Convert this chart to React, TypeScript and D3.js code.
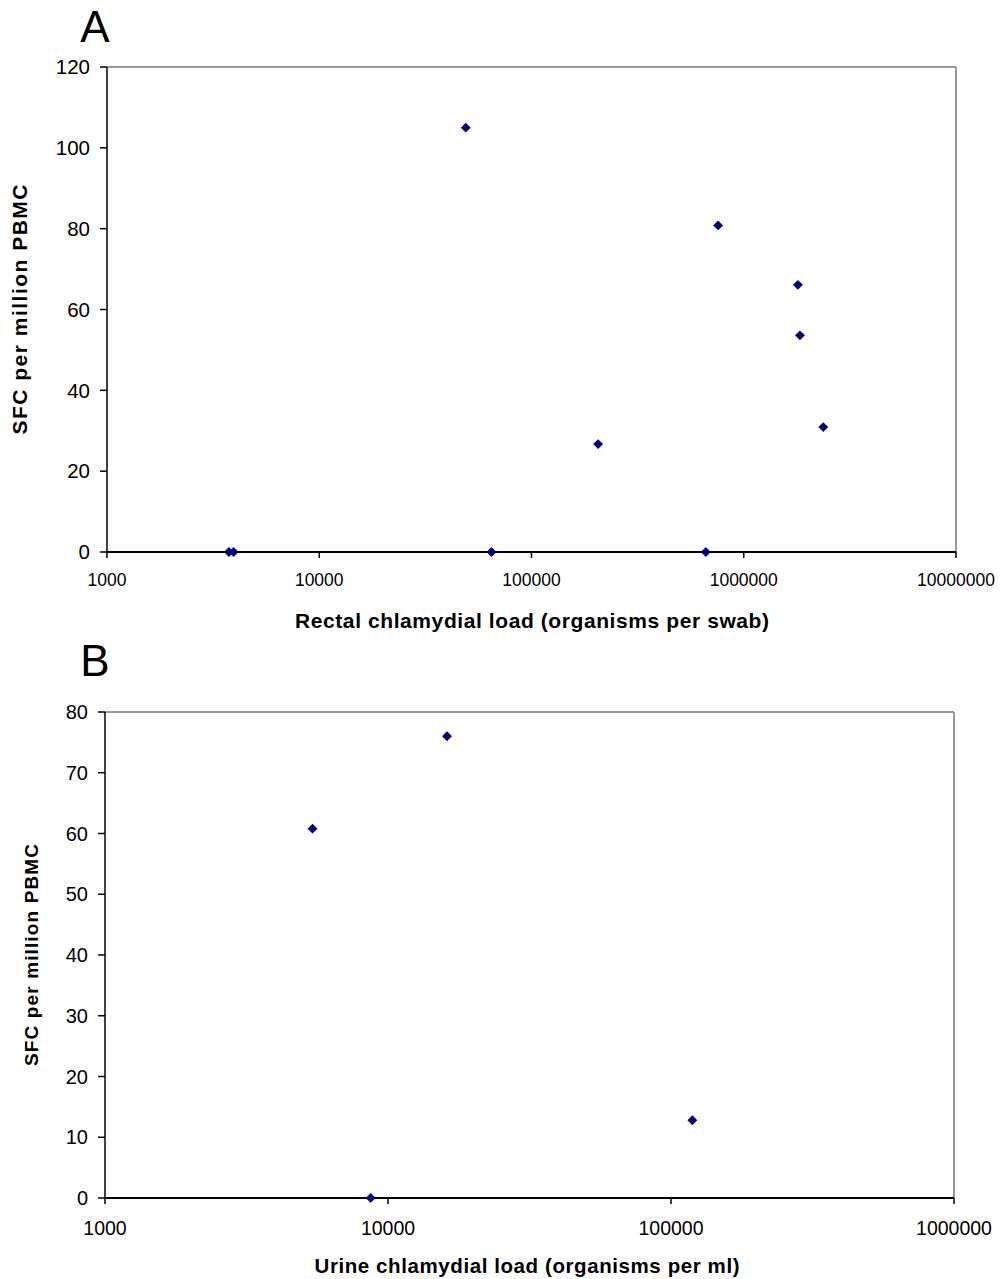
import React from "react";
import * as d3 from "d3";

// Panel A: rectal load vs SFC
const rectalLoad = [3750, 3950, 64800, 49000, 206000, 757000, 1800000, 1840000, 2370000, 663000];
const rectalSFC = [0, 0, 0, 105, 26.7, 80.8, 66.1, 53.6, 30.9, 0];
const rectalXTicks = [1000, 10000, 100000, 1000000, 10000000];
const rectalYTicks = [0, 20, 40, 60, 80, 100, 120];

// Panel B: urine load vs SFC
const urineLoad = [5410, 16160, 8690, 119000];
const urineSFC = [60.8, 76, 0, 12.8];
const urineXTicks = [1000, 10000, 100000, 1000000];
const urineYTicks = [0, 10, 20, 30, 40, 50, 60, 70, 80];

const FONT = "'Liberation Sans', Arial, sans-serif";
const MARK = "#000080";

type PanelProps = {
  label: string;
  xs: number[];
  ys: number[];
  xTicks: number[];
  yTicks: number[];
  xDomain: [number, number];
  yDomain: [number, number];
  left: number; right: number; top: number; bottom: number;
  xTitle: string; yTitle: string;
  xTitleX: number; xTitleY: number; xTitleLen: number;
  yTitleX: number; yTitleLen: number;
  labelY: number;
  yTickFont: number; xTickFont: number; xTickY: number;
  xTitleFont: number; yTitleFont: number;
};

function Panel(p: PanelProps) {
  const x = d3.scaleLog().domain(p.xDomain).range([p.left, p.right]);
  const y = d3.scaleLinear().domain(p.yDomain).range([p.bottom, p.top]);
  const diamond = d3.symbol().type(d3.symbolDiamond2).size(62)();
  const yMid = (p.top + p.bottom) / 2;
  return (
    <g>
      <text x={95} y={p.labelY} fontFamily={FONT} fontSize={44} textAnchor="middle">{p.label}</text>
      {/* frame */}
      <line x1={p.left} x2={p.right} y1={p.top} y2={p.top} stroke="#999" strokeWidth={2} />
      <line x1={p.right} x2={p.right} y1={p.top} y2={p.bottom} stroke="#999" strokeWidth={2} />
      <line x1={p.left} x2={p.left} y1={p.top} y2={p.bottom} stroke="#000" strokeWidth={1.5} />
      <line x1={p.left} x2={p.right} y1={p.bottom} y2={p.bottom} stroke="#000" strokeWidth={2} />
      {/* y ticks */}
      {p.yTicks.map((t) => (
        <g key={"y" + t}>
          <line x1={p.left - 7} x2={p.left} y1={y(t)} y2={y(t)} stroke="#000" strokeWidth={1.5} />
          <text x={p.left - 17} y={y(t)} dy="0.35em" textAnchor="end" fontFamily={FONT} fontSize={p.yTickFont}>{t}</text>
        </g>
      ))}
      {/* x ticks */}
      {p.xTicks.map((t) => (
        <g key={"x" + t}>
          <line x1={x(t)} x2={x(t)} y1={p.bottom} y2={p.bottom + 6} stroke="#000" strokeWidth={1.5} />
          <text x={x(t)} y={p.xTickY} dy="0.35em" textAnchor="middle" fontFamily={FONT} fontSize={p.xTickFont}>{t}</text>
        </g>
      ))}
      {/* points */}
      {p.xs.map((v, i) => (
        <path key={"p" + i} d={diamond || ""} transform={`translate(${x(v)},${y(p.ys[i])})`} fill={MARK} />
      ))}
      <text x={p.xTitleX} y={p.xTitleY} dy="0.35em" textAnchor="middle" fontFamily={FONT} fontWeight="bold"
        fontSize={p.xTitleFont} textLength={p.xTitleLen} lengthAdjust="spacing">{p.xTitle}</text>
      <text transform={`translate(${p.yTitleX},${yMid}) rotate(-90)`} dy="0.35em" textAnchor="middle" fontFamily={FONT}
        fontWeight="bold" fontSize={p.yTitleFont} textLength={p.yTitleLen} lengthAdjust="spacing">{p.yTitle}</text>
    </g>
  );
}

export default function App() {
  return (
    <svg width={1000} height={1279} style={{ position: "absolute", left: 0, top: 0, background: "#fff" }}>
      <rect width={1000} height={1279} fill="#fff" />
      <Panel
        label="A" labelY={42}
        xs={rectalLoad} ys={rectalSFC} xTicks={rectalXTicks} yTicks={rectalYTicks}
        xDomain={[1000, 10000000]} yDomain={[0, 120]}
        left={107} right={956} top={67} bottom={552}
        xTitle="Rectal chlamydial load (organisms per swab)" yTitle="SFC per million PBMC"
        xTitleX={532} xTitleY={621} xTitleLen={474} yTitleX={20} yTitleLen={250}
        yTickFont={20.5} xTickFont={17.5} xTickY={580}
        xTitleFont={21} yTitleFont={21}
      />
      <Panel
        label="B" labelY={676}
        xs={urineLoad} ys={urineSFC} xTicks={urineXTicks} yTicks={urineYTicks}
        xDomain={[1000, 1000000]} yDomain={[0, 80]}
        left={105} right={954} top={712} bottom={1198}
        xTitle="Urine chlamydial load (organisms per ml)" yTitle="SFC per million PBMC"
        xTitleX={527} xTitleY={1266} xTitleLen={425} yTitleX={31} yTitleLen={222}
        yTickFont={20} xTickFont={19.5} xTickY={1228}
        xTitleFont={20.5} yTitleFont={19}
      />
    </svg>
  );
}
